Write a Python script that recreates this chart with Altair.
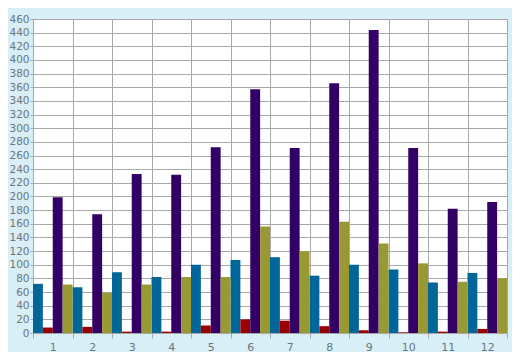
import altair as alt
import pandas as pd

groups = [str(i) for i in range(1, 13)]
series_order = ["S1", "S2", "S3", "S4"]
series_colors = ["#006699", "#990000", "#330066", "#999933"]

s1 = [72, 67, 89, 82, 100, 107, 111, 84, 100, 93, 74, 88]
s2 = [8, 9, 2, 2, 11, 20, 18, 10, 4, 1, 2, 6]
s3 = [199, 174, 233, 232, 272, 357, 271, 366, 444, 271, 182, 192]
s4 = [71, 59, 71, 82, 82, 156, 120, 163, 131, 102, 75, 80]

y_ticks = list(range(0, 461, 20))

rows = []
for name, vals in zip(series_order, [s1, s2, s3, s4]):
    for g, v in zip(groups, vals):
        rows.append({"group": g, "series": name, "value": v})
df = pd.DataFrame(rows)

grid_color = "#A8A8A8"
label_color = "#6A767C"

chart = (
    alt.Chart(df)
    .mark_bar()
    .encode(
        x=alt.X(
            "group:N",
            sort=groups,
            scale=alt.Scale(paddingInner=0, paddingOuter=0),
            axis=alt.Axis(
                title=None,
                labelAngle=0,
                tickBand="extent",
                grid=True,
                gridColor=grid_color,
                gridOpacity=1,
                tickColor=grid_color,
                tickSize=5,
                domainColor=grid_color,
                labelColor=label_color,
                labelFont="DejaVu Sans",
                labelFontSize=11,
                labelPadding=3,
            ),
        ),
        xOffset=alt.XOffset(
            "series:N",
            sort=series_order,
            scale=alt.Scale(paddingInner=0, paddingOuter=0),
        ),
        y=alt.Y(
            "value:Q",
            scale=alt.Scale(domain=[0, 460], nice=False),
            axis=alt.Axis(
                title=None,
                values=y_ticks,
                grid=True,
                gridColor=grid_color,
                gridOpacity=1,
                tickColor=grid_color,
                tickSize=3,
                domainColor=grid_color,
                labelColor=label_color,
                labelFont="DejaVu Sans",
                labelFontSize=10.5,
                labelPadding=1,
            ),
        ),
        color=alt.Color(
            "series:N",
            scale=alt.Scale(domain=series_order, range=series_colors),
            legend=None,
        ),
    )
    .properties(
        width=504,
        height=344,
        autosize=alt.AutoSizeParams(type="fit", contains="padding"),
        padding={"left": 0, "top": 6, "right": 4, "bottom": 0},
        background="#D9EFF7",
    )
    .configure_view(fill="white", stroke=grid_color, strokeWidth=1)
)

chart.save("out.html", embed_options={"renderer": "svg", "actions": False})
